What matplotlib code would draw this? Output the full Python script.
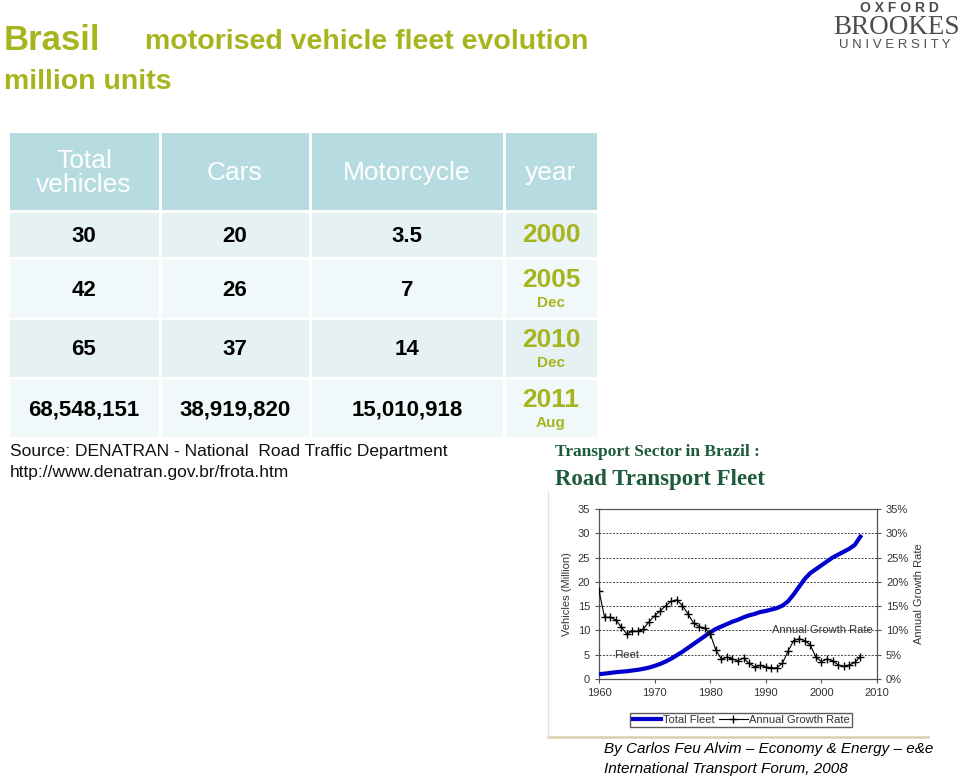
import matplotlib.pyplot as plt
from matplotlib.patches import Rectangle

# ---- table data (slide) ----
headers = ["Total\nvehicles", "Cars", "Motorcycle", "year"]
total_vehicles = ["30", "42", "65", "68,548,151"]
cars = ["20", "26", "37", "38,919,820"]
motorcycles = ["3.5", "7", "14", "15,010,918"]
years = ["2000", "2005", "2010", "2011"]
months = ["", "Dec", "Dec", "Aug"]

# ---- chart data: Road Transport Fleet ----
fleet_years = list(range(1960, 2008))
total_fleet = [1.0, 1.1, 1.25, 1.4, 1.5, 1.6, 1.75, 1.9, 2.1, 2.35,
               2.7, 3.1, 3.6, 4.2, 4.9, 5.6, 6.4, 7.2, 8.0, 8.8,
               9.6, 10.3, 10.8, 11.3, 11.8, 12.2, 12.7, 13.1, 13.4, 13.8,
               14.0, 14.3, 14.6, 15.1, 16.0, 17.4, 19.0, 20.6, 21.8, 22.6,
               23.4, 24.2, 25.0, 25.6, 26.2, 26.8, 27.6, 29.3]
growth_rate = [18.2, 12.7, 12.7, 12.2, 10.7, 9.3, 9.8, 9.8, 10.3, 11.8,
               13.0, 14.0, 15.1, 16.0, 16.3, 15.1, 13.4, 11.5, 10.8, 10.5,
               9.3, 6.0, 4.1, 4.5, 4.1, 3.8, 4.3, 3.2, 2.5, 2.8,
               2.5, 2.3, 2.3, 3.3, 5.7, 7.9, 8.3, 7.9, 7.0, 4.5,
               3.6, 4.1, 3.8, 2.9, 2.6, 2.9, 3.4, 4.6]

green = "#a6b51e"
header_bg = "#b6dce2"
row_bg = ["#e5f1f3", "#f1f8f9", "#e5f1f3", "#f1f8f9"]
sans = ["Liberation Sans", "DejaVu Sans"]
serif = ["Liberation Serif", "DejaVu Serif"]
plt.rcParams["font.family"] = sans

fig = plt.figure(figsize=(9.6, 7.79), dpi=100)
fig.patch.set_facecolor("white")

# overlay in pixel coordinates for the slide elements
bg = fig.add_axes([0, 0, 1, 1])
bg.set_xlim(0, 960)
bg.set_ylim(779, 0)
bg.axis("off")

# titles
bg.text(4, 40, "Brasil", color=green, fontsize=25, fontweight="bold", va="center")
bg.text(145, 42, "motorised vehicle fleet evolution", color=green, fontsize=20.5,
        fontweight="bold", va="center")
bg.text(4, 82, "million units", color=green, fontsize=20.5, fontweight="bold", va="center")

# logo
logo = "#4d4d4d"
bg.text(899, 8, "O X F O R D", color=logo, fontsize=10, fontweight="bold",
        ha="center", va="center")
bg.text(897, 27, "BROOKES", color=logo, fontsize=19.5, family=serif,
        ha="center", va="center")
bg.text(895, 45, "U N I V E R S I T Y", color=logo, fontsize=9.5,
        ha="center", va="center")

# table
col_edges = [8, 160, 310, 504, 598]
row_edges = [(133, 210), (213, 257), (260, 318), (320, 377), (380, 437)]
gap = 1.5
for r, (y0, y1) in enumerate(row_edges):
    color = header_bg if r == 0 else row_bg[r - 1]
    for c in range(4):
        x0, x1 = col_edges[c], col_edges[c + 1]
        bg.add_patch(Rectangle((x0 + gap, y0), x1 - x0 - 2 * gap, y1 - y0,
                               facecolor=color, edgecolor="none"))

centers = [(col_edges[i] + col_edges[i + 1]) / 2 for i in range(4)]
for c, h in enumerate(headers):
    bg.text(centers[c], 173, h, color="white", fontsize=19,
            ha="center", va="center", linespacing=1.05)

for r in range(4):
    y0, y1 = row_edges[r + 1]
    ym = (y0 + y1) / 2
    for c, col in enumerate([total_vehicles, cars, motorcycles]):
        bg.text(centers[c], ym + 1, col[r], color="black", fontsize=16, fontweight="bold",
                ha="center", va="center")
    if months[r]:
        bg.text(centers[3], ym - 9, years[r], color=green, fontsize=19, fontweight="bold",
                ha="center", va="center")
        bg.text(centers[3], ym + 14, months[r], color=green, fontsize=11, fontweight="bold",
                ha="center", va="center")
    else:
        bg.text(centers[3], ym, years[r], color=green, fontsize=19, fontweight="bold",
                ha="center", va="center")

bg.text(10, 451, "Source: DENATRAN - National  Road Traffic Department", fontsize=12.5,
        va="center", color="#111111")
bg.text(10, 472, "http://www.denatran.gov.br/frota.htm", fontsize=12.5,
        va="center", color="#111111")

# chart heading
bg.text(555, 452, "Transport Sector in Brazil :", color="#1d5a3b", fontsize=12.5,
        family=serif, fontweight="bold", va="center")
bg.text(555, 479, "Road Transport Fleet", color="#1d5a3b", fontsize=16.5,
        family=serif, fontweight="bold", va="center")

# frame lines around the chart picture
bg.plot([548, 928], [737, 737], color="#d8d0ad", lw=1.8)
bg.plot([548, 548], [492, 737], color="#e2e2e2", lw=1)

# footer
bg.text(604, 749, "By Carlos Feu Alvim \u2013 Economy & Energy \u2013 e&e", fontsize=11,
        style="italic", va="center")
bg.text(604, 769, "International Transport Forum, 2008", fontsize=11,
        style="italic", va="center")

# ---- chart ----
fs = 8
ax = fig.add_axes([599 / 960, 1 - 679 / 779, 278 / 960, 170 / 779])
ax.plot(fleet_years, total_fleet, color="#0000cc", lw=3, label="Total Fleet", zorder=3)
ax.plot(fleet_years, growth_rate, color="black", lw=0.8, marker="+", markersize=6,
        mew=1, label="Annual Growth Rate", zorder=4)
ax.set_xlim(1960, 2010)
ax.set_ylim(0, 35)
ax.set_xticks(range(1960, 2011, 10))
ax.set_yticks(range(0, 36, 5))
ax.yaxis.grid(True, linestyle=(0, (2, 1.5)), color="#444444", lw=0.7)
ax.set_axisbelow(True)
ax.tick_params(labelsize=fs, labelcolor="#333333", color="#555555", length=3)
ax.set_ylabel("Vehicles (Million)", fontsize=fs, color="#333333", labelpad=4)
for s in ax.spines.values():
    s.set_color("#555555")
    s.set_linewidth(0.9)

ax2 = ax.twinx()
ax2.set_ylim(0, 35)
ax2.set_yticks(range(0, 36, 5))
ax2.set_yticklabels([f"{v}%" for v in range(0, 36, 5)])
ax2.tick_params(labelsize=fs, labelcolor="#333333", color="#555555", length=3)
ax2.set_ylabel("Annual Growth Rate", fontsize=fs, color="#333333", labelpad=4)
for s in ax2.spines.values():
    s.set_visible(False)

ax.text(1962.8, 4.3, "Fleet", fontsize=fs, color="#333333")
ax.text(1991.2, 9.5, "Annual Growth Rate", fontsize=fs, color="#333333")

ax.legend(loc="center", bbox_to_anchor=(741 / 960, 1 - 720 / 779), bbox_transform=fig.transFigure,
          ncol=2, fontsize=fs, frameon=True, fancybox=False, edgecolor="#333333",
          handlelength=2.6, handletextpad=0.1, columnspacing=0.4, borderpad=0.2,
          labelcolor="#333333")

fig.savefig("out.png", dpi=100)
